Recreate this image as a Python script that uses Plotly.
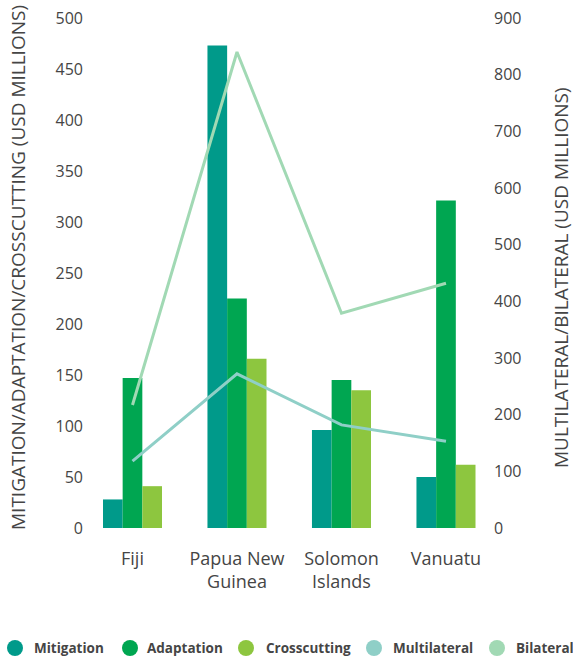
import plotly.graph_objects as go

# Climate finance by country (USD millions)
countries = ["Fiji", "Papua New<br>Guinea", "Solomon<br>Islands", "Vanuatu"]
mitigation = [28, 473, 96, 50]
adaptation = [147, 225, 145, 321]
crosscutting = [41, 166, 135, 62]
multilateral = [118, 272, 182, 153]
bilateral = [217, 840, 379, 432]

C_MIT = "#009a8a"
C_ADA = "#00a651"
C_CROSS = "#8dc63f"
C_MULTI = "#8fcfc7"
C_BI = "#a1d9b4"

FONT = "Open Sans"
GREY = "#454545"

W, H = 573, 657
L, R, T, B = 84, 80, 18, 129
PW, PH = W - L - R, H - T - B


def px_x(px):
    return (px - L) / PW


def px_y(py):
    return (H - B - py) / PH


fig = go.Figure()

for name, vals, col in [("Mitigation", mitigation, C_MIT),
                        ("Adaptation", adaptation, C_ADA),
                        ("Crosscutting", crosscutting, C_CROSS)]:
    fig.add_trace(go.Bar(x=countries, y=vals, name=name, marker_color=col,
                         marker_line_width=0))

for name, vals, col in [("Multilateral", multilateral, C_MULTI),
                        ("Bilateral", bilateral, C_BI)]:
    fig.add_trace(go.Scatter(x=countries, y=vals, name=name, mode="lines",
                             line=dict(color=col, width=3), yaxis="y2"))

# legend row: circle swatch + bold label
legend_items = [("Mitigation", C_MIT, 15, 32),
                ("Adaptation", C_ADA, 130, 145),
                ("Crosscutting", C_CROSS, 246, 264),
                ("Multilateral", C_MULTI, 374, 391),
                ("Bilateral", C_BI, 497, 514)]
shapes, annotations = [], []
LEG_Y = 648
r = 8
for name, col, cx, tx in legend_items:
    shapes.append(dict(type="circle", xref="paper", yref="paper",
                       x0=px_x(cx - r), x1=px_x(cx + r),
                       y0=px_y(LEG_Y + r), y1=px_y(LEG_Y - r),
                       fillcolor=col, line_width=0))
    annotations.append(dict(text=f"<b>{name}</b>", xref="paper", yref="paper",
                            x=px_x(tx), y=px_y(LEG_Y), xanchor="left",
                            yanchor="middle", showarrow=False,
                            font=dict(size=13.5, color=GREY, family=FONT)))

# axis titles
annotations.append(dict(text="MITIGATION/ADAPTATION/CROSSCUTTING (USD MILLIONS)",
                        xref="paper", yref="paper", x=px_x(18), y=px_y(268),
                        textangle=-90, showarrow=False, xanchor="center",
                        yanchor="middle", font=dict(size=19, color=GREY)))
annotations.append(dict(text="MULTILATERAL/BILATERAL (USD MILLIONS)",
                        xref="paper", yref="paper", x=px_x(561), y=px_y(278),
                        textangle=-90, showarrow=False, xanchor="center",
                        yanchor="middle", font=dict(size=19, color=GREY)))

fig.update_layout(
    width=W, height=H,
    margin=dict(l=L, r=R, t=T, b=B, autoexpand=False),
    plot_bgcolor="white", paper_bgcolor="white",
    barmode="group", bargap=0.435, bargroupgap=0,
    showlegend=False,
    font=dict(family=FONT, color=GREY, size=16),
    xaxis=dict(range=[-0.464, 3.45], showgrid=False, showline=False,
               ticks="", ticklabelstandoff=18,
               tickfont=dict(size=18, color=GREY)),
    yaxis=dict(range=[0, 500], dtick=50, showgrid=False, zeroline=False,
               showline=False, tickfont=dict(size=16, color=GREY)),
    yaxis2=dict(range=[0, 900], dtick=100, overlaying="y", side="right",
                showgrid=False, zeroline=False, showline=False,
                tickfont=dict(size=16, color=GREY)),
    shapes=shapes,
    annotations=annotations,
)

fig.write_html("out.html")
